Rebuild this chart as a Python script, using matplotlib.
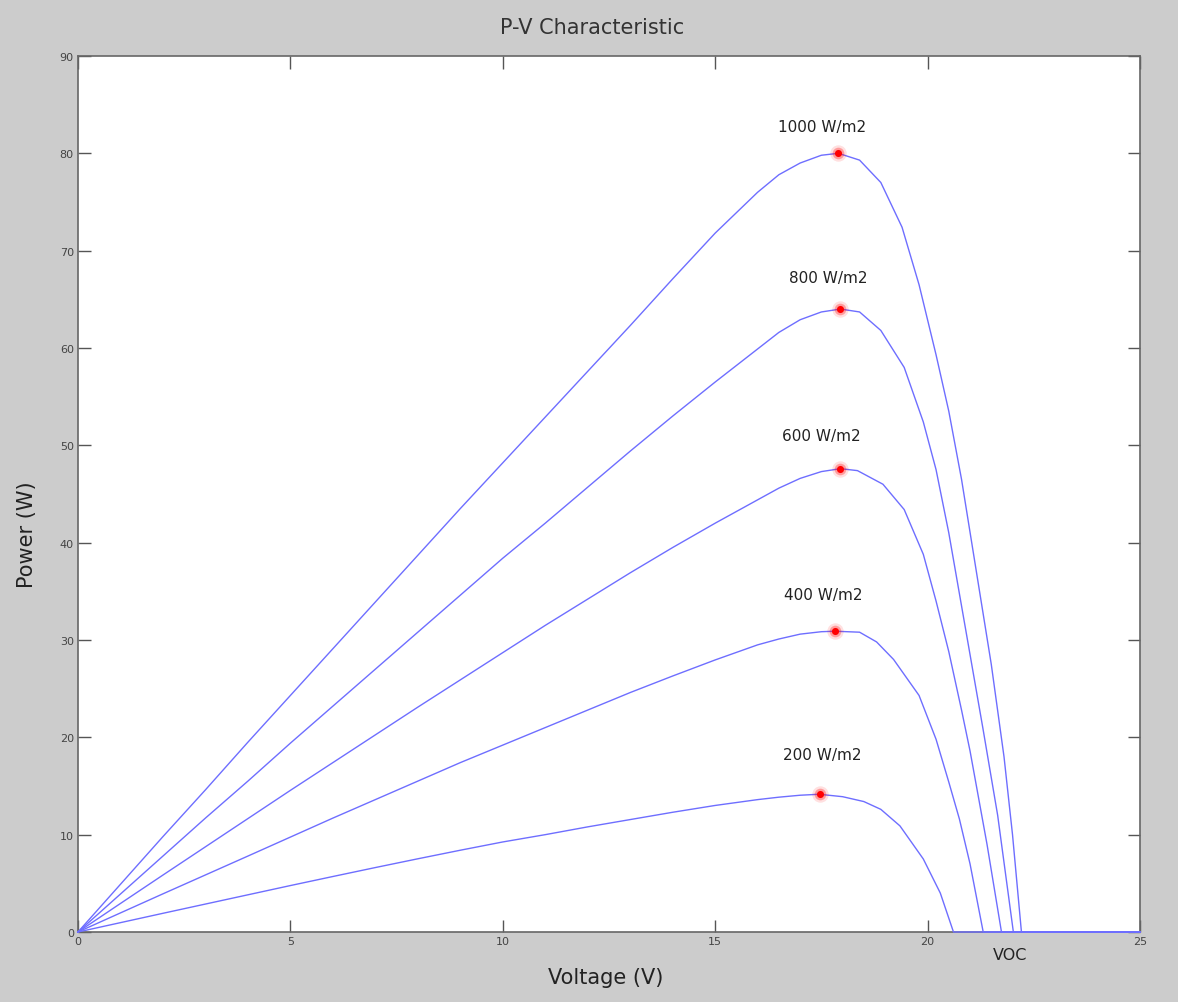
import numpy as np
import matplotlib
matplotlib.use('Agg')
import matplotlib.pyplot as plt

# P-V curves of a PV module at five irradiance levels
v_rise = [0, 1, 2, 3, 4, 5, 6, 7, 8, 9, 10, 11, 12, 13, 14, 15, 16]

p1000_rise = [0, 4.9, 9.8, 14.6, 19.5, 24.3, 29.1, 33.9, 38.7, 43.5, 48.2, 52.9, 57.6, 62.3, 67.1, 71.8, 76.0]
v1000_knee = [16.5, 17, 17.5, 17.9, 18.4, 18.9, 19.4, 19.8, 20.2, 20.5, 20.8, 21.15, 21.5, 21.8, 22.0, 22.21, 25]
p1000_knee = [77.8, 79.0, 79.8, 80.0, 79.3, 77.0, 72.4, 66.5, 59.3, 53.5, 46.5, 37.0, 27.5, 18.0, 10.0, 0, 0]

p800_rise = [0, 3.9, 7.8, 11.7, 15.5, 19.4, 23.2, 27.0, 30.8, 34.6, 38.4, 42.0, 45.7, 49.4, 53.0, 56.5, 59.9]
v800_knee = [16.5, 17, 17.5, 17.95, 18.4, 18.9, 19.45, 19.9, 20.2, 20.5, 20.9, 21.3, 21.65, 22.02, 25]
p800_knee = [61.6, 62.9, 63.7, 64.0, 63.7, 61.8, 58.0, 52.4, 47.5, 41.0, 31.0, 21.0, 12.0, 0, 0]

p600_rise = [0, 2.93, 5.85, 8.75, 11.65, 14.55, 17.4, 20.25, 23.1, 25.9, 28.7, 31.5, 34.2, 36.9, 39.5, 42.0, 44.4]
v600_knee = [16.5, 17, 17.5, 17.95, 18.35, 18.95, 19.45, 19.9, 20.2, 20.5, 20.8, 21.0, 21.4, 21.74, 25]
p600_knee = [45.6, 46.6, 47.3, 47.6, 47.4, 46.0, 43.4, 38.8, 34.0, 28.8, 22.8, 18.6, 9.0, 0, 0]

p400_rise = [0, 1.96, 3.92, 5.86, 7.8, 9.75, 11.7, 13.6, 15.5, 17.4, 19.2, 21.0, 22.8, 24.6, 26.3, 27.95, 29.5]
v400_knee = [16.5, 17, 17.5, 17.82, 18.4, 18.8, 19.2, 19.8, 20.2, 20.5, 20.75, 21.0, 21.31, 25]
p400_knee = [30.1, 30.6, 30.85, 30.9, 30.8, 29.8, 28.0, 24.3, 19.8, 15.4, 11.6, 7.0, 0, 0]

p200_rise = [0, 0.96, 1.92, 2.87, 3.82, 4.77, 5.7, 6.62, 7.52, 8.4, 9.25, 10.0, 10.8, 11.55, 12.3, 13.0, 13.6]
v200_knee = [16.5, 17, 17.45, 18.0, 18.5, 18.9, 19.35, 19.9, 20.3, 20.61, 25]
p200_knee = [13.85, 14.05, 14.15, 13.9, 13.4, 12.6, 10.9, 7.5, 4.0, 0, 0]

# maximum power points
mpp_v = [17.9, 17.95, 17.95, 17.82, 17.47]
mpp_p = [80.0, 64.0, 47.6, 30.9, 14.15]

labels = ['1000 W/m2', '800 W/m2', '600 W/m2', '400 W/m2', '200 W/m2']
label_v = [17.51, 17.66, 17.51, 17.54, 17.51]
label_p = [82.8, 67.2, 51.0, 34.7, 18.2]

curves = [
    (p1000_rise, v1000_knee, p1000_knee),
    (p800_rise, v800_knee, p800_knee),
    (p600_rise, v600_knee, p600_knee),
    (p400_rise, v400_knee, p400_knee),
    (p200_rise, v200_knee, p200_knee),
]

fig = plt.figure(figsize=(11.78, 10.03), dpi=100, facecolor='#cccccc')
ax = fig.add_axes([0.0662, 0.0698, 0.9015, 0.8734])
ax.set_facecolor('white')

for p_rise, v_knee, p_knee in curves:
    v = list(v_rise) + list(v_knee)
    p = list(p_rise) + list(p_knee)
    ax.plot(v, p, color='#6e6eff', lw=1.0, clip_on=False, zorder=3)

# glowing red MPP dots
ax.scatter(mpp_v, mpp_p, s=140, color='red', alpha=0.12, lw=0, zorder=4)
ax.scatter(mpp_v, mpp_p, s=70, color='red', alpha=0.3, lw=0, zorder=4)
ax.scatter(mpp_v, mpp_p, s=26, color='red', lw=0, zorder=5)

for txt, x, y in zip(labels, label_v, label_p):
    ax.text(x, y, txt, ha='center', va='center', fontsize=11, color='#222222')

ax.text(21.94, -2.3, 'VOC', ha='center', va='center', fontsize=11.5,
        color='#222222', clip_on=False)

ax.set_xlim(0, 25)
ax.set_ylim(0, 90)
ax.set_xticks(range(0, 26, 5))
ax.set_yticks(range(0, 91, 10))
ax.tick_params(direction='in', length=9, width=1, color='#555555',
               labelsize=8, labelcolor='#444444', top=True, right=True,
               pad=3)
for s in ax.spines.values():
    s.set_color('#666666')
    s.set_linewidth(1.2)

fig.text(592 / 1178, 1 - 28 / 1003, 'P-V Characteristic', ha='center',
         va='center', fontsize=15, color='#333333')
fig.text(606 / 1178, 1 - 978 / 1003, 'Voltage (V)', ha='center',
         va='center', fontsize=15, color='#222222')
fig.text(27 / 1178, 1 - 535 / 1003, 'Power (W)', ha='center', va='center',
         rotation=90, fontsize=15, color='#222222')

fig.savefig('out.png', dpi=100, facecolor=fig.get_facecolor())
